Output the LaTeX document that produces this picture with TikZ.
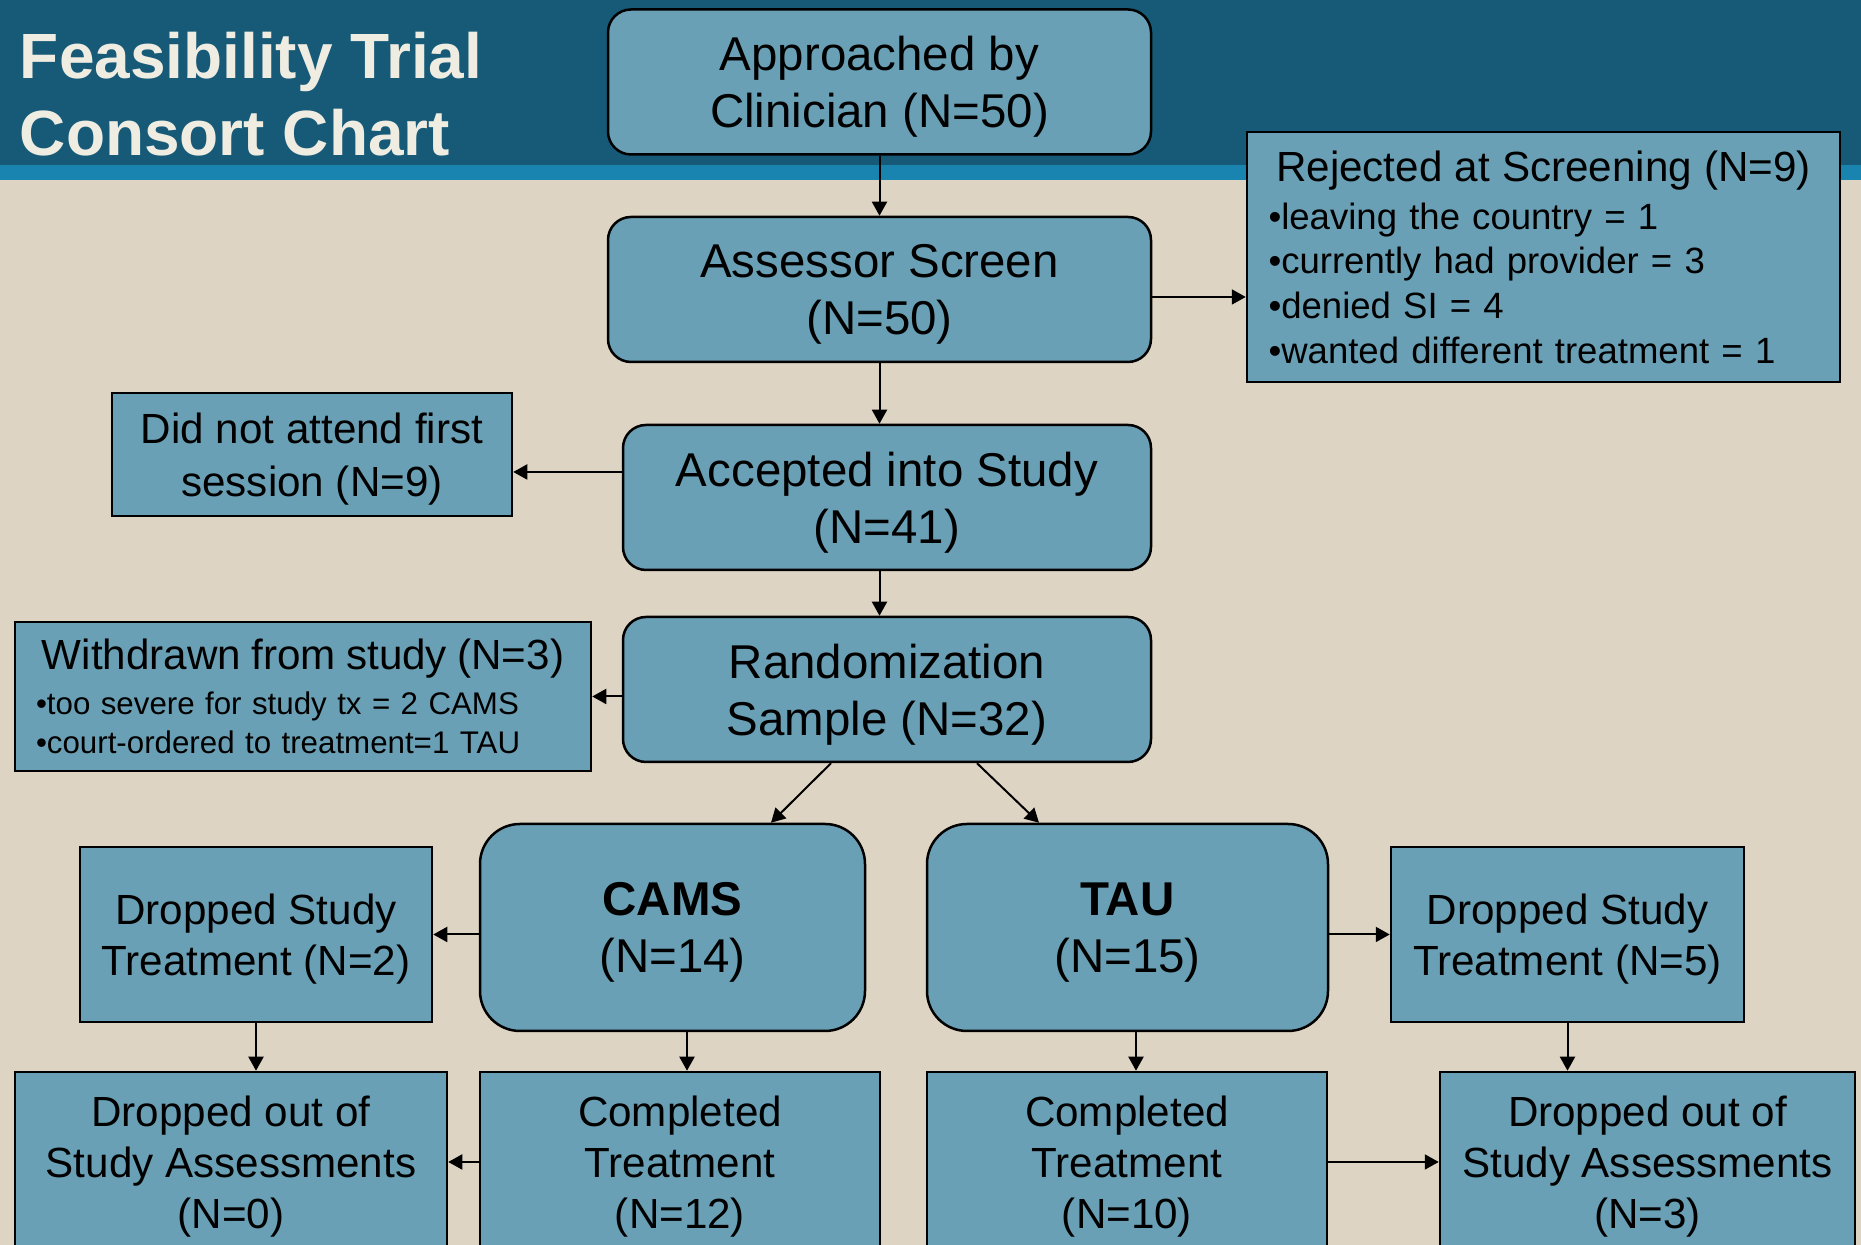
\documentclass[tikz,border=0pt]{standalone}
\usepackage{fontspec}
\setmainfont{Liberation Sans}
\usetikzlibrary{arrows.meta, calc}

\begin{document}
\begin{tikzpicture}[%
        > = {Triangle[length = 1.4mm, width = 1.5mm]},
        line width = 0.2mm,
        flowbox/.style = {%
            draw = black,
            line width = 0.25mm,
            fill = boxblue,
            align = center,
            inner sep = 0pt
        },
        plainflow/.style = {flowbox, text depth = 0pt},
        roundflow/.style = {plainflow, rounded corners = 2.3mm},
        bigflow/.style = {plainflow, rounded corners = 4mm},
        mainfont/.style = {font = \fontsize{13.5}{16.2}\selectfont},
        sidefont/.style = {font = \fontsize{12}{14.5}\selectfont}
    ]

        % Start a group to locally define the colors.
        \begingroup

            % Colors for the page, the header and the boxes.
            \definecolor{boxblue}{RGB}{106, 160, 181}
            \definecolor{headdark}{RGB}{22, 90, 120}
            \definecolor{headstripe}{RGB}{25, 132, 175}
            \definecolor{paper}{RGB}{221, 212, 195}
            \definecolor{titletext}{RGB}{239, 236, 226}

            % Page with the header band.
            \clip (0, 0) rectangle (18.61, 12.45);
            \fill[paper] (0, 0) rectangle (18.61, 12.45);
            \fill[headdark] (0, 10.80) rectangle (18.61, 12.45);
            \fill[headstripe] (0, 10.65) rectangle (18.61, 10.80);

            % Title.
            \node[anchor = base west, text = titletext, inner sep = 0pt,
                font = \fontsize{18.2}{22}\bfseries] (titleA) at (0.19, 11.66) {Feasibility Trial};
            \node[anchor = base west, text = titletext, inner sep = 0pt,
                font = \fontsize{18.2}{22}\bfseries] (titleB) at (0.19, 10.89) {Consort Chart};

            % Coordinates
            \coordinate (A) at (8.795, 11.63);
            \coordinate (B) at (8.795, 9.555);
            \coordinate (R) at (15.435, 9.88);
            \coordinate (D) at (3.12, 7.905);
            \coordinate (C) at (8.87, 7.475);
            \coordinate (W) at (3.03, 5.485);
            \coordinate (Q) at (8.87, 5.555);
            \coordinate (cL) at (6.725, 3.175);
            \coordinate (cR) at (11.275, 3.175);
            \coordinate (dL) at (2.56, 3.105);
            \coordinate (dR) at (15.675, 3.105);
            \coordinate (oL) at (2.31, 0.83);
            \coordinate (pL) at (6.8, 0.83);
            \coordinate (pR) at (11.27, 0.83);
            \coordinate (oR) at (16.475, 0.83);

            % Main column.
            \node[roundflow, mainfont, minimum width = 5.43cm, minimum height = 1.45cm]
                (approached) at (A) {Approached by\\Clinician (N=50)};
            \node[roundflow, mainfont, minimum width = 5.43cm, minimum height = 1.45cm]
                (assessor) at (B) {Assessor Screen\\(N=50)};
            \node[roundflow, mainfont, minimum width = 5.28cm, minimum height = 1.45cm]
                (accepted) at (C) {Accepted into Study\\(N=41)};
            \node[roundflow, mainfont, minimum width = 5.28cm, minimum height = 1.45cm]
                (random) at (Q) {Randomization\\Sample (N=32)};

            % Boxes for the excluded.
            \node[flowbox, align = left, text width = 5.5cm, minimum width = 5.93cm,
                minimum height = 2.5cm, font = \fontsize{10.4}{12.7}\selectfont]
                (rejected) at (R) {%
                \noindent\makebox[\hsize]{\fontsize{12}{14}\selectfont Rejected at Screening (N=9)}\\[1pt]
                •leaving the country = 1\\
                •currently had provider = 3\\
                •denied SI = 4\\
                •wanted different treatment = 1};
            \node[plainflow, sidefont, minimum width = 4.0cm, minimum height = 1.23cm,
                font = \fontsize{12}{15}\selectfont]
                (dna) at (D) {Did not attend first\\session (N=9)};
            \node[flowbox, align = left, text width = 5.34cm, minimum width = 5.76cm,
                minimum height = 1.49cm, font = \fontsize{8.9}{11}\selectfont]
                (withdrawn) at (W) {%
                \noindent\makebox[\hsize]{\fontsize{12}{14}\selectfont Withdrawn from study (N=3)}\\[1.7pt]
                •too severe for study tx = 2 CAMS\\
                •court-ordered to treatment=1 TAU};

            % The two arms.
            \node[bigflow, mainfont, minimum width = 3.85cm, minimum height = 2.07cm]
                (cams) at (cL) {\textbf{CAMS}\\(N=14)};
            \node[bigflow, mainfont, minimum width = 4.01cm, minimum height = 2.07cm]
                (tau) at (cR) {\textbf{TAU}\\(N=15)};
            \node[plainflow, sidefont, minimum width = 3.52cm, minimum height = 1.75cm]
                (dropL) at (dL) {Dropped Study\\Treatment (N=2)};
            \node[plainflow, sidefont, minimum width = 3.53cm, minimum height = 1.75cm]
                (dropR) at (dR) {Dropped Study\\Treatment (N=5)};

            % Bottom row.
            \node[plainflow, sidefont, minimum width = 4.32cm, minimum height = 1.8cm]
                (outL) at (oL) {Dropped out of\\Study Assessments\\(N=0)};
            \node[plainflow, sidefont, minimum width = 4.0cm, minimum height = 1.8cm]
                (compL) at (pL) {Completed\\Treatment\\(N=12)};
            \node[plainflow, sidefont, minimum width = 4.0cm, minimum height = 1.8cm]
                (compR) at (pR) {Completed\\Treatment\\(N=10)};
            \node[plainflow, sidefont, minimum width = 4.15cm, minimum height = 1.8cm]
                (outR) at (oR) {Dropped out of\\Study Assessments\\(N=3)};

            % Free ends of some arrows.
            \coordinate (dnatip) at ([yshift = -1.75mm]dna.east);
            \coordinate (rejtail) at ([yshift = -0.75mm]assessor.east);

            % Draw the arrows.
            \begin{scope}[->]
                \draw (approached) -- (assessor);
                \draw (rejtail) -- (rejtail -| rejected.west);
                \draw (assessor.south) -- (assessor.south |- accepted.north);
                \draw (accepted.west |- dnatip) -- (dnatip);
                \draw (accepted.south -| approached.south) -- (random.north -| approached.south);
                \draw (random.west |- withdrawn.east) -- (withdrawn.east);
                \draw ([xshift = -5.6mm]random.south) -- ([xshift = 9.85mm]cams.north);
                \draw ([xshift = 9mm]random.south) -- ([xshift = -8.85mm]tau.north);
                \draw (cams.west |- dropL.east) -- (dropL.east);
                \draw (tau.east |- dropR.west) -- (dropR.west);
                \draw (dropL.south) -- (dropL.south |- outL.north);
                \draw ([xshift = 1.45mm]cams.south) -- ([xshift = 1.45mm]cams.south |- compL.north);
                \draw ([xshift = 0.85mm]tau.south) -- ([xshift = 0.85mm]tau.south |- compR.north);
                \draw (dropR.south) -- (dropR.south |- outR.north);
                \draw (compL.west) -- (compL.west -| outL.east);
                \draw (compR.east) -- (compR.east -| outR.west);
            \end{scope}
        \endgroup
    \end{tikzpicture}
\end{document}
